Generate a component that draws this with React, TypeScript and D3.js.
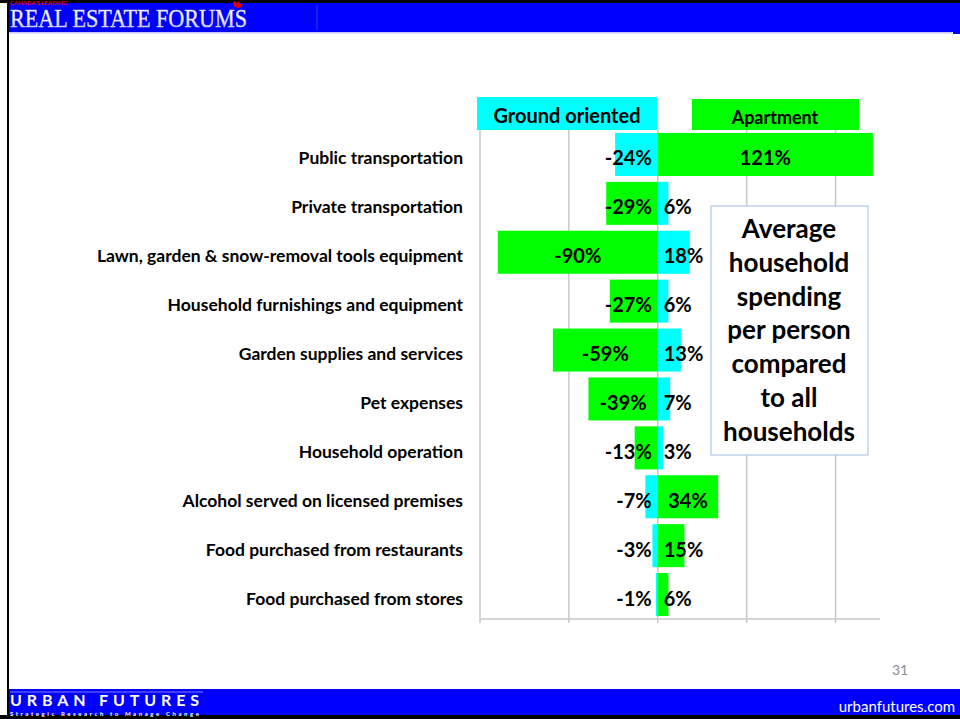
import React from "react";
import * as d3 from "d3";

const categories = [
  "Public transportation",
  "Private transportation",
  "Lawn, garden & snow-removal tools equipment",
  "Household furnishings and equipment",
  "Garden supplies and services",
  "Pet expenses",
  "Household operation",
  "Alcohol served on licensed premises",
  "Food purchased from restaurants",
  "Food purchased from stores",
];
const groundOriented = [-24, 6, 18, 6, 13, 7, 3, -7, -3, -1];
const apartment = [121, -29, -90, -27, -59, -39, -13, 34, 15, 6];
const seriesNames = ["Ground oriented", "Apartment"];
const gridTicks = [-100, -50, 0, 50, 100];
const noteLines = ["Average", "household", "spending", "per person", "compared", "to all", "households"];

const CYAN = "#00FFFF";
const GREEN = "#00FF00";
const FONT = "Lato, 'Open Sans', sans-serif";
const LABEL_FONT_SIZE = 20;

let ctx: CanvasRenderingContext2D | null = null;
function measure(text: string, size: number): number {
  if (!ctx) ctx = document.createElement("canvas").getContext("2d");
  if (!ctx) return text.length * size * 0.55;
  ctx.font = `bold ${size}px Lato`;
  return ctx.measureText(text).width;
}

export default function App() {
  const W = 960;
  const H = 719;
  const x = d3.scaleLinear().domain([-100, 125]).range([480, 880]);
  const y = d3
    .scaleBand<string>()
    .domain(categories)
    .range([130, 619])
    .paddingInner(0.12)
    .paddingOuter(0.06);
  const x0 = x(0);
  const bw = y.bandwidth();

  const bars: { cat: string; v: number; color: string }[] = [];
  categories.forEach((c, i) => {
    bars.push({ cat: c, v: groundOriented[i], color: CYAN });
    bars.push({ cat: c, v: apartment[i], color: GREEN });
  });

  const fmt = (v: number) => `${v}%`;

  return (
    <svg
      width={W}
      height={H}
      style={{ position: "absolute", left: 0, top: 0, display: "block", background: "#fff" }}
    >
      <defs>
        <linearGradient id="hdr" x1="0" y1="0" x2="0" y2="1">
          <stop offset="0" stopColor="#ffffff" />
          <stop offset="0.55" stopColor="#f0f0f0" />
          <stop offset="1" stopColor="#a8a8b0" />
        </linearGradient>
      </defs>
      {/* slide frame */}
      <rect x={0} y={0} width={W} height={H} fill="#fff" />
      <rect x={0} y={0} width={W} height={3} fill="#000" />
      <rect x={7} y={0} width={2} height={H} fill="#000" />
      <rect x={9} y={3} width={W - 9} height={29} fill="#0000FF" />
      <rect x={9} y={32} width={943} height={1.5} fill="#c8c8ff" />
      <rect x={953} y={32} width={7} height={2} fill="#0000FF" />
      <line x1={317} y1={5} x2={317} y2={30} stroke="#3a3ad0" strokeWidth={1} />
      <text x={10} y={5} fontSize={6} fontWeight="bold" fill="#e00000" fontFamily={FONT}>
        CANADA'S LEADING
      </text>
      <path d="M234,1 l3,2 l2,-2 l1,3 l3,0 l-2,3 l-3,1 l-3,-1 l-2,-3 z" fill="#e00000" />
      <text
        x={10}
        y={27}
        fontSize={25}
        fontFamily="'Liberation Serif', 'DejaVu Serif', serif"
        fill="url(#hdr)"
        stroke="#d8d8e0"
        strokeWidth={0.4}
        textLength={237}
        lengthAdjust="spacingAndGlyphs"
      >
        REAL ESTATE FORUMS
      </text>

      {/* footer */}
      <rect x={9} y={689} width={W - 9} height={26} fill="#0000FF" />
      <rect x={0} y={715} width={W} height={4} fill="#000" />
      <line x1={10} y1={692} x2={203} y2={692} stroke="#7c7cff" strokeWidth={1} />
      <text
        x={10}
        y={706}
        fontSize={16}
        fontWeight="bold"
        fill="#fff"
        fontFamily={FONT}
        textLength={189}
        lengthAdjust="spacing"
      >
        URBAN FUTURES
      </text>
      <text
        x={10}
        y={715.5}
        fontSize={6}
        fontWeight="bold"
        fill="#fff"
        fontFamily={FONT}
        textLength={189}
        lengthAdjust="spacing"
      >
        Strategic Research to Manage Change
      </text>
      <text x={955} y={712} fontSize={15} fill="#fff" fontFamily={FONT} textAnchor="end">
        urbanfutures.com
      </text>
      <text x={900} y={675} fontSize={14} fill="#8c8c8c" fontFamily={FONT} textAnchor="middle">
        31
      </text>

      {/* gridlines & axis */}
      {gridTicks.map((t) => (
        <line
          key={t}
          x1={x(t)}
          x2={x(t)}
          y1={130}
          y2={623}
          stroke="#c8c8c8"
          strokeWidth={1.5}
        />
      ))}
      <line x1={x(-100)} x2={x(125)} y1={619} y2={619} stroke="#c8c8c8" strokeWidth={1.5} />

      {/* legend */}
      <rect x={477} y={97} width={180} height={33} fill={CYAN} />
      <text
        x={567}
        y={123}
        fontSize={20}
        fontWeight="bold"
        textAnchor="middle"
        fontFamily={FONT}
        fill="#000"
      >
        {seriesNames[0]}
      </text>
      <rect x={692} y={99} width={167} height={31} fill={GREEN} />
      <text
        x={775}
        y={124}
        fontSize={18}
        fontWeight="bold"
        textAnchor="middle"
        fontFamily={FONT}
        fill="#000"
      >
        {seriesNames[1]}
      </text>

      {/* bars */}
      {bars.map((b, i) => (
        <rect
          key={i}
          x={Math.min(x(b.v), x0)}
          y={y(b.cat)!}
          width={Math.abs(x(b.v) - x0)}
          height={bw}
          fill={b.color}
        />
      ))}

      {/* category labels */}
      {categories.map((c) => (
        <text
          key={c}
          x={463}
          y={y(c)! + bw / 2 + 10}
          fontSize={17.5}
          fontWeight="bold"
          textAnchor="end"
          fontFamily={FONT}
          fill="#000"
        >
          {c}
        </text>
      ))}

      {/* value labels */}
      {bars.map((b, i) => {
        const s = fmt(b.v);
        const w = measure(s, LABEL_FONT_SIZE);
        const cx = (x(b.v) + x0) / 2;
        let left: number;
        if (b.v < 0) {
          const right = Math.min(cx + w / 2, x0 - 6);
          left = right - w;
        } else {
          left = Math.max(cx - w / 2, x0 + 6);
        }
        return (
          <text
            key={"l" + i}
            x={left}
            y={y(b.cat)! + bw / 2 + 11}
            fontSize={LABEL_FONT_SIZE}
            fontWeight="bold"
            fontFamily={FONT}
            fill="#000"
          >
            {s}
          </text>
        );
      })}

      {/* note box */}
      <rect x={711} y={206} width={157} height={249} fill="#fff" stroke="#9dbde0" strokeWidth={1} />
      {noteLines.map((l, i) => (
        <text
          key={l}
          x={789}
          y={238 + i * 33.8}
          fontSize={26}
          fontWeight="bold"
          textAnchor="middle"
          fontFamily={FONT}
          fill="#000"
        >
          {l}
        </text>
      ))}
    </svg>
  );
}
